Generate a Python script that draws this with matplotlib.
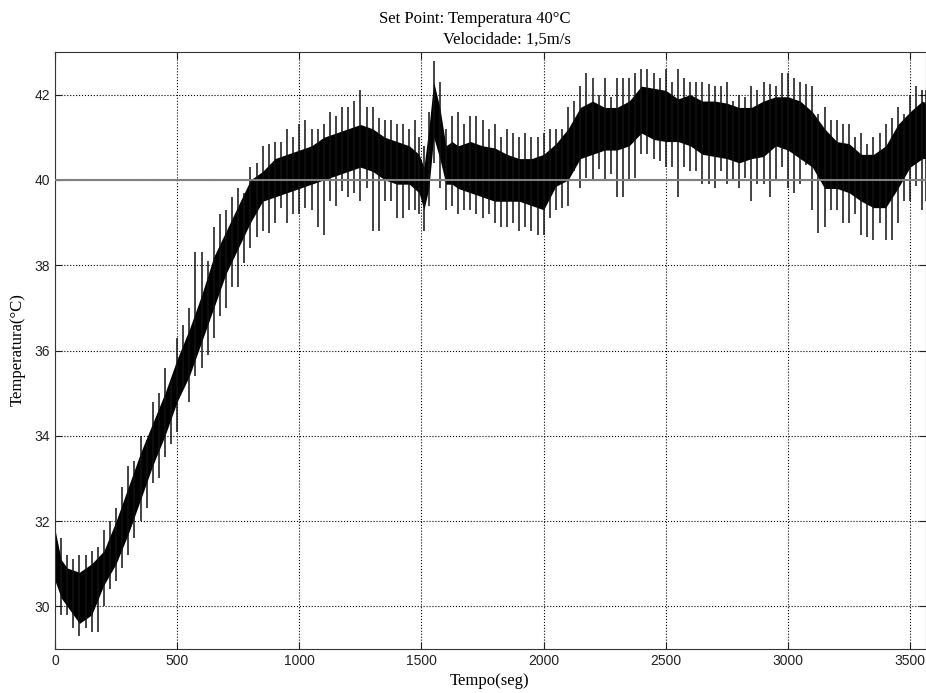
import numpy as np
import matplotlib.pyplot as plt

# tempo (s) e envelopes
tempo = [0, 25, 50, 100, 150, 200, 250, 300, 350, 400, 450, 500, 550, 600, 650, 700,
         750, 800, 850, 900, 950, 1000, 1050, 1100, 1150, 1200, 1250, 1300, 1350, 1400,
         1450, 1490, 1510, 1530, 1550, 1575, 1600, 1625, 1650, 1700, 1750, 1800, 1850,
         1900, 1950, 2000, 2050, 2100, 2150, 2200, 2250, 2300, 2350, 2400, 2450, 2500,
         2550, 2600, 2650, 2700, 2750, 2800, 2850, 2900, 2950, 3000, 3050, 3100, 3150,
         3200, 3250, 3300, 3350, 3400, 3450, 3500, 3550, 3565]
nucleo_sup = [31.8, 31.1, 30.9, 30.8, 31.0, 31.3, 32.0, 32.8, 33.6, 34.3, 35.0, 35.8, 36.5,
              37.3, 38.2, 38.8, 39.4, 40.0, 40.2, 40.5, 40.6, 40.7, 40.8, 41.0, 41.1, 41.2,
              41.3, 41.2, 41.0, 40.9, 40.8, 40.6, 40.3, 41.2, 42.3, 41.7, 40.8, 40.9, 40.8,
              40.9, 40.8, 40.75, 40.6, 40.5, 40.5, 40.6, 40.85, 41.2, 41.7, 41.85, 41.7,
              41.7, 41.85, 42.2, 42.15, 42.1, 41.9, 42.0, 41.85, 41.85, 41.8, 41.7, 41.7,
              41.85, 41.95, 41.95, 41.85, 41.6, 41.2, 40.9, 40.85, 40.6, 40.6, 40.8, 41.3,
              41.6, 41.85, 41.8]
nucleo_inf = [30.6, 30.2, 30.0, 29.6, 29.8, 30.5, 31.0, 31.7, 32.5, 33.3, 34.0, 34.8, 35.4,
              36.2, 37.0, 37.8, 38.4, 39.0, 39.5, 39.6, 39.7, 39.8, 39.9, 40.0, 40.1, 40.2,
              40.3, 40.2, 40.0, 39.9, 39.9, 39.7, 39.3, 39.8, 41.0, 40.5, 39.9, 39.9, 39.8,
              39.7, 39.6, 39.5, 39.5, 39.5, 39.4, 39.3, 39.85, 40.0, 40.5, 40.6, 40.7, 40.7,
              40.8, 41.1, 40.95, 40.9, 40.9, 40.8, 40.6, 40.55, 40.5, 40.4, 40.5, 40.55,
              40.8, 40.7, 40.5, 40.3, 39.8, 39.8, 39.7, 39.5, 39.35, 39.35, 39.8, 40.3,
              40.5, 40.5]
pico_sup = [32.3, 31.6, 31.2, 31.2, 31.3, 31.8, 32.3, 33.3, 34.0, 34.8, 35.6, 36.3, 37.0,
            38.3, 38.9, 39.3, 39.8, 40.3, 40.8, 40.9, 41.2, 41.3, 41.2, 41.3, 41.5, 41.7,
            42.1, 41.7, 41.4, 41.3, 41.2, 41.0, 40.8, 41.6, 42.8, 42.3, 41.2, 41.5, 41.6,
            41.5, 41.4, 41.3, 41.2, 41.0, 41.0, 41.1, 41.2, 41.7, 42.2, 42.4, 42.4, 42.4,
            42.4, 42.6, 42.5, 42.6, 42.6, 42.3, 42.3, 42.2, 42.3, 42.0, 42.2, 42.3, 42.2,
            42.5, 42.3, 42.2, 41.7, 41.4, 41.3, 41.1, 41.0, 41.3, 41.7, 42.0, 42.1, 42.1]
pico_inf = [30.9, 29.8, 29.8, 29.3, 29.4, 30.0, 30.6, 31.2, 32.0, 32.9, 33.5, 34.1, 34.8,
            35.6, 36.3, 37.0, 37.5, 38.4, 38.8, 39.0, 39.0, 39.2, 39.3, 38.7, 39.4, 39.6,
            39.5, 38.8, 39.5, 39.1, 39.3, 39.2, 38.8, 39.4, 40.4, 39.8, 39.3, 39.4, 39.2,
            39.3, 39.1, 39.0, 38.9, 38.8, 38.8, 38.7, 39.3, 39.4, 39.8, 40.0, 40.0, 39.6,
            40.0, 40.6, 40.5, 40.3, 39.6, 40.2, 39.9, 39.8, 39.9, 39.8, 39.5, 39.9, 40.0,
            39.8, 39.9, 39.3, 38.9, 39.3, 39.0, 38.7, 38.6, 38.6, 39.0, 39.5, 39.3, 39.5]

# picos intermediarios
tempo_meio = [75, 125, 175, 225, 275, 325, 375, 425, 475, 525, 575, 625, 675, 725, 775,
              825, 875, 925, 975, 1025, 1075, 1125, 1175, 1225, 1275, 1325, 1375, 1425,
              1475, 1675, 1725, 1775, 1825, 1875, 1925, 1975, 2025, 2075, 2125, 2175,
              2225, 2275, 2325, 2375, 2425, 2475, 2525, 2575, 2625, 2675, 2725, 2775,
              2825, 2875, 2925, 2975, 3025, 3075, 3125, 3175, 3225, 3275, 3325, 3375,
              3425, 3475, 3525]
meio_sup = [31.1, 31.2, 31.4, 32.0, 32.8, 33.4, 33.9, 35.0, 35.3, 36.6, 38.3, 38.1, 39.2,
            39.6, 39.7, 40.4, 40.85, 40.9, 41.0, 41.4, 41.2, 41.6, 41.7, 41.85, 41.7,
            41.45, 41.4, 41.3, 41.4, 41.3, 41.5, 41.2, 41.0, 41.1, 41.1, 41.0, 41.2, 41.2,
            41.85, 42.5, 42.0, 41.95, 42.4, 42.5, 42.6, 42.4, 42.3, 42.4, 42.3, 42.25,
            42.2, 41.85, 41.95, 42.1, 42.25, 42.5, 42.4, 42.25, 41.55, 41.4, 41.3, 41.0,
            40.85, 41.1, 41.45, 41.55, 42.2]
meio_inf = [29.5, 29.5, 29.4, 30.4, 30.9, 31.6, 32.3, 33.0, 33.8, 35.1, 35.4, 35.9, 36.8,
            37.5, 38.05, 38.65, 38.75, 39.35, 39.2, 39.35, 38.9, 39.5, 39.75, 39.7, 39.8,
            38.8, 39.5, 39.1, 39.3, 39.3, 39.2, 39.2, 38.9, 39.0, 38.9, 38.7, 39.1, 39.35,
            40.2, 40.05, 40.25, 40.15, 39.6, 40.05, 40.6, 40.45, 40.3, 40.3, 40.2, 39.9,
            40.2, 40.0, 40.05, 39.9, 39.6, 40.3, 39.7, 40.35, 38.75, 39.3, 39.0, 39.2,
            38.65, 39.0, 38.6, 39.5, 39.85]
set_point = 40

plt.rcParams['font.family'] = ['Liberation Sans', 'DejaVu Sans']
fig = plt.figure(figsize=(9.26, 6.93), dpi=100)
ax = fig.add_axes([55 / 926, 44 / 693, 871 / 926, 597 / 693])

ax.fill_between(tempo, nucleo_inf, nucleo_sup, color='black', lw=0, zorder=2)
ax.vlines(tempo, pico_inf, pico_sup, color='#111111', lw=1.1, zorder=2)
ax.vlines(tempo_meio, meio_inf, meio_sup, color='#111111', lw=1.1, zorder=2)
ax.axhline(set_point, color='#808080', lw=1.5, zorder=3)

ax.set_xlim(0, 3565)
ax.set_ylim(29, 43)
ax.set_xticks(np.arange(0, 3501, 500))
ax.set_yticks(np.arange(30, 43, 2))
ax.grid(True, linestyle=':', color='black', lw=0.8)
ax.tick_params(direction='in', top=True, right=True, labelsize=10, colors='#222222', length=5)
for s in ax.spines.values():
    s.set_color('#333333')

serif = ['Liberation Serif', 'DejaVu Serif']
fig.text(475 / 926, 1 - 19 / 693, 'Set Point: Temperatura 40°C', ha='center', va='center',
         fontsize=12, family=serif)
fig.text(507 / 926, 1 - 40 / 693, 'Velocidade: 1,5m/s', ha='center', va='center',
         fontsize=12, family=serif)
fig.text(490 / 926, 1 - 681 / 693, 'Tempo(seg)', ha='center', va='center', fontsize=12, family=serif)
fig.text(18 / 926, 1 - 350 / 693, 'Temperatura(°C)', ha='center', va='center', rotation=90,
         fontsize=12, family=serif)

fig.savefig('out.png', dpi=100)
